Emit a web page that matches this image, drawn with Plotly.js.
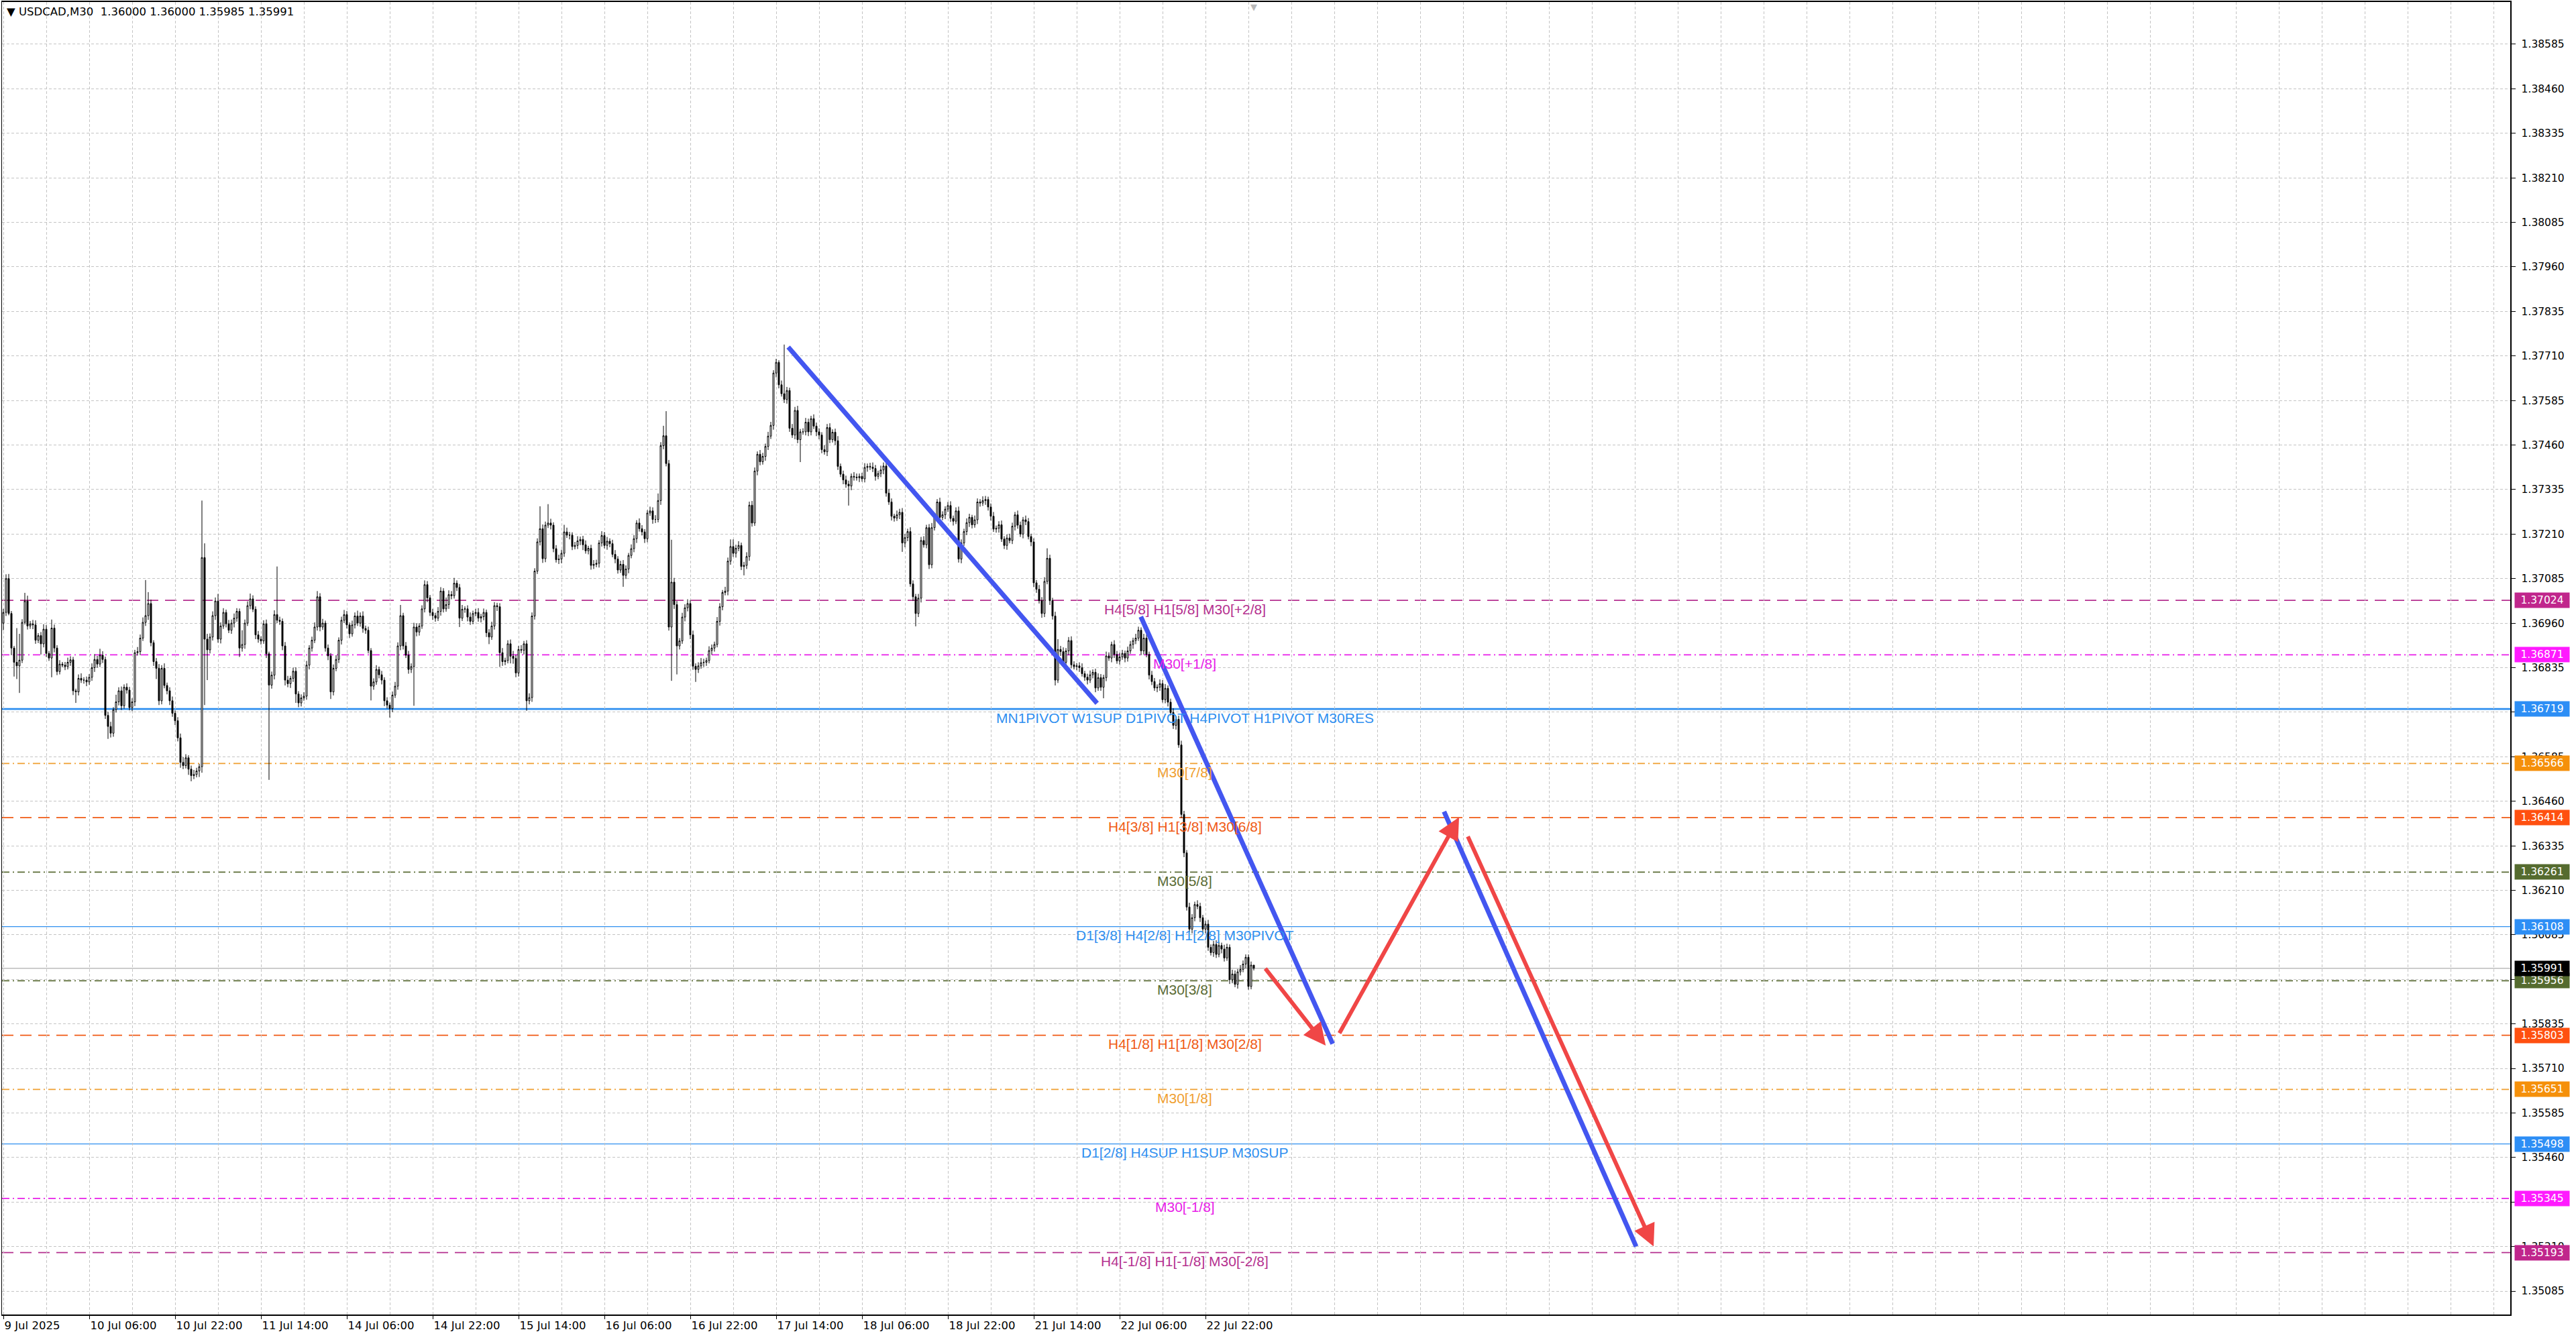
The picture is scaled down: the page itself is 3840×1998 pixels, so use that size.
<!DOCTYPE html>
<html>
<head>
<meta charset="utf-8">
<script src="https://cdn.plot.ly/plotly-3.0.1.min.js"></script>
<style>
  html, body { margin: 0; padding: 0; background: #fff; }
  #chart { width: 3840px; height: 1998px; }
</style>
</head>
<body>
<div id="chart"></div>
<script>
// USDCAD M30 -- prices kept in points (1e-5) relative to 1.36000
const BASE = 1.36;
const PT = 0.00001;
const firstOpenPts = 960;

const closePts = [
  990,1085,987,890,850,840,856,962,1022,952,958,955,912,925,902,943,
  875,862,946,890,824,845,842,838,850,857,770,767,805,800,800,795,
  808,835,858,845,870,858,701,670,651,717,739,770,728,780,772,723,
  739,877,880,918,962,981,1015,905,852,833,742,833,785,770,742,707,
  686,638,569,560,582,550,532,535,545,557,1144,915,885,921,981,1022,
  915,952,990,958,940,960,974,993,890,900,960,1009,1028,999,927,915,
  910,958,874,786,814,984,968,965,896,800,790,805,825,761,736,750,
  755,842,890,912,949,1034,949,960,890,868,767,833,858,912,968,984,
  955,930,955,980,960,980,945,940,883,783,795,830,815,800,742,730,
  720,758,783,896,981,896,870,830,838,949,935,952,1000,1068,1031,990,
  981,974,993,1050,1000,1012,1040,1037,1072,1060,974,999,1000,977,965,987,
  990,974,978,990,933,921,952,1009,1006,877,852,855,902,867,861,820,
  886,884,902,742,751,980,1106,1188,1225,1141,1235,1241,1235,1169,1138,1140,
  1156,1216,1207,1207,1175,1178,1191,1195,1180,1163,1170,1122,1125,1128,1185,1206,
  1178,1190,1183,1153,1140,1109,1125,1094,1112,1150,1169,1197,1241,1225,1216,1197,
  1269,1275,1251,1251,1304,1458,1486,1408,949,1075,1012,896,910,977,1003,1015,
  927,839,830,840,849,850,855,883,890,900,965,1006,1046,1050,1134,1175,
  1156,1170,1178,1119,1122,1147,1291,1241,1387,1434,1413,1428,1456,1485,1515,1662,
  1692,1629,1604,1588,1613,1507,1488,1557,1475,1497,1497,1524,1497,1534,1513,1497,
  1488,1447,1441,1509,1475,1496,1472,1400,1378,1362,1350,1345,1372,1370,1368,1372,
  1365,1397,1400,1398,1394,1372,1380,1390,1401,1325,1300,1260,1255,1264,1271,1185,
  1200,1217,1070,1034,987,1030,1192,1180,1228,1124,1228,1257,1300,1257,1264,1280,
  1290,1254,1246,1275,1140,1185,1217,1242,1257,1236,1250,1300,1297,1304,1307,1286,
  1260,1224,1226,1236,1196,1178,1199,1192,1232,1264,1235,1210,1250,1245,1203,1188,
  1073,1055,1023,987,1077,1142,1023,980,800,886,880,850,882,911,843,838,
  840,835,818,808,800,815,822,778,807,780,807,868,862,900,872,854,
  865,875,862,882,900,911,918,940,882,918,872,814,796,778,780,790,
  745,777,738,709,673,690,618,423,315,163,101,133,170,165,133,101,
  115,50,35,58,30,55,45,20,50,-41,-25,-54,-19,-12,3,22,
  -60,0,-9
];

// wick lengths above / below the body, points
const upperWick = [
  10,12,13,7,6,96,74,9,23,15,8,11,13,7,10,14,
  12,7,24,10,8,11,6,9,13,10,8,6,11,14,8,10,
  9,12,15,10,18,11,8,10,13,7,20,10,12,8,11,9,
  10,8,13,10,14,100,32,11,7,10,12,9,14,8,10,12,
  8,10,12,15,10,7,10,13,9,8,160,40,15,10,12,10,
  20,10,12,8,11,10,13,9,8,40,10,12,15,10,8,11,
  8,10,12,6,10,12,135,10,8,11,12,7,10,11,8,10,
  11,12,8,10,13,16,10,12,7,10,8,11,12,8,10,13,
  10,7,12,10,15,10,13,8,10,7,10,12,8,11,8,10,
  7,10,12,10,30,8,11,12,9,12,10,8,10,12,10,8,
  10,8,12,11,8,20,12,10,15,8,10,12,7,10,13,8,
  10,12,8,11,8,10,12,10,8,10,13,8,10,12,15,10,
  10,12,8,10,12,10,8,10,63,12,10,53,12,8,10,12,
  10,20,12,9,8,10,13,8,10,12,7,10,12,10,8,12,
  10,12,8,11,12,8,10,12,10,7,12,10,8,13,10,8,
  8,12,10,12,20,10,28,69,10,119,12,10,8,12,10,12,
  10,12,8,10,13,10,8,12,10,8,12,10,7,12,10,20,
  20,10,12,8,10,12,10,12,10,8,12,10,8,12,10,8,
  10,6,12,138,10,8,12,10,13,8,10,12,10,8,12,10,
  10,8,12,10,12,8,10,13,8,10,12,10,8,12,10,8,
  10,12,8,10,13,10,8,12,10,8,12,10,7,12,10,12,
  10,8,12,10,8,12,10,12,8,10,13,10,8,12,10,8,
  10,12,8,10,12,10,8,12,10,7,12,10,8,12,10,8,
  10,12,8,10,12,8,10,12,10,8,12,10,8,12,10,8,
  10,8,12,10,12,28,10,8,12,29,10,12,8,10,12,10,
  8,10,12,8,10,12,8,10,12,10,8,12,10,8,12,10,
  12,10,8,12,10,8,12,10,8,12,10,8,12,10,8,12,
  10,12,8,10,12,8,10,12,10,8,12,10,8,12,10,8,
  10,12,8,10,12,10,8,12,10,8,12,10,8,12,10,8,
  8,10,0
];
const lowerWick = [
  20,10,5,20,40,37,76,8,6,10,8,12,10,8,30,10,
  10,8,54,12,10,8,6,10,8,10,12,31,10,8,10,12,
  8,10,12,10,8,10,10,35,12,10,8,10,12,8,10,8,
  10,12,8,10,8,10,12,10,12,30,12,10,8,10,12,10,
  12,10,15,10,8,16,16,10,8,17,17,185,85,10,10,12,
  10,12,8,10,8,10,12,10,25,10,12,8,10,8,12,10,
  10,8,12,266,10,12,8,10,12,15,10,12,10,25,12,10,
  8,10,12,10,8,10,12,8,10,12,20,10,8,10,12,8,
  10,12,8,10,8,10,12,10,8,40,10,8,10,12,15,10,
  25,10,8,10,12,10,8,12,10,110,12,10,8,10,12,10,
  12,10,8,12,10,8,12,10,8,10,25,8,10,12,10,8,
  8,10,12,10,12,20,8,10,12,40,12,10,8,20,15,12,
  10,8,12,28,10,12,10,8,10,12,10,8,12,10,8,12,
  12,10,8,12,10,8,10,12,15,8,10,12,10,8,12,10,
  8,12,10,8,12,10,8,32,10,12,8,10,12,8,10,12,
  10,8,12,10,8,12,10,8,10,151,12,80,10,8,12,10,
  12,10,35,10,8,12,10,8,12,10,8,12,10,8,12,10,
  10,12,8,10,25,10,12,10,8,12,10,8,12,10,8,12,
  12,10,8,10,12,10,8,12,10,63,8,10,12,10,8,12,
  12,10,8,12,10,8,12,10,8,12,10,55,12,10,8,12,
  8,10,12,8,10,12,8,10,12,10,8,12,10,8,12,25,
  12,10,8,12,36,10,12,8,10,12,10,8,12,10,8,12,
  8,10,12,8,10,12,8,10,12,10,8,12,10,8,12,10,
  12,8,10,12,8,10,12,8,10,12,10,8,12,10,8,12,
  12,10,8,12,10,8,12,10,15,8,12,10,8,12,10,8,
  10,12,8,10,12,8,10,12,8,10,31,10,8,12,10,8,
  10,8,12,10,8,12,10,8,12,10,8,12,10,8,12,10,
  8,10,12,8,10,12,8,10,12,10,8,12,10,8,12,10,
  12,10,8,12,10,8,12,10,8,12,10,8,12,10,8,12,
  9,8,6
];

const xTickBars = [0,32,64,96,128,160,192,224,256,288,320,352,384,416,448];
const xTickText = ['9 Jul 2025','10 Jul 06:00','10 Jul 22:00','11 Jul 14:00','14 Jul 06:00',
  '14 Jul 22:00','15 Jul 14:00','16 Jul 06:00','16 Jul 22:00','17 Jul 14:00',
  '18 Jul 06:00','18 Jul 22:00','21 Jul 14:00','22 Jul 06:00','22 Jul 22:00'];

const yTicks = [1.35085,1.35210,1.35335,1.35460,1.35585,1.35710,1.35835,1.35960,1.36085,
  1.36210,1.36335,1.36460,1.36585,1.36710,1.36835,1.36960,1.37085,1.37210,1.37335,
  1.37460,1.37585,1.37710,1.37835,1.37960,1.38085,1.38210,1.38335,1.38460,1.38585];

// Murrey / pivot levels and their captions
const levelPrices = [1.37024,1.36871,1.36719,1.36566,1.36414,1.36261,1.36108,
  1.35956,1.35803,1.35651,1.35498,1.35345,1.35193];
const levelNames = ['H4[5/8] H1[5/8] M30[+2/8]','M30[+1/8]',
  'MN1PIVOT W1SUP D1PIVOT H4PIVOT H1PIVOT M30RES','M30[7/8]',
  'H4[3/8] H1[3/8] M30[6/8]','M30[5/8]','D1[3/8] H4[2/8] H1[2/8] M30PIVOT',
  'M30[3/8]','H4[1/8] H1[1/8] M30[2/8]','M30[1/8]','D1[2/8] H4SUP H1SUP M30SUP',
  'M30[-1/8]','H4[-1/8] H1[-1/8] M30[-2/8]'];

// drawn objects: trend lines and forecast arrows (bar index, price)
const blueLineX = [[292.5,407.6],[423.9,495.4],[536.9,608.5]];
const blueLineY = [[1.37735,1.36735],[1.36978,1.35779],[1.36431,1.35210]];
const redFromX = [470.0,497.7,545.6];
const redFromY = [1.35993,1.35806,1.36364];
const redToX = [492.8,542.5,615.0];
const redToY = [1.35774,1.36415,1.35210];

// ---- styles ----
const levelColors = ['#b5308f','#e81ee8','#2f8ff0','#f0a030','#f05a14','#5a6b34','#2f8ff0',
  '#5a6b34','#f05a14','#f0a030','#2f8ff0','#e81ee8','#b5308f'];
const tagColors = ['#c0268c','#ff1aff','#2d8ef5','#f5900a','#ff5010','#556b2f','#2d8ef5',
  '#556b2f','#ff5010','#f5900a','#2d8ef5','#ff1aff','#c0268c'];
const LONG = '17px,10px', DDOT = '11px,5px,2px,5px';
const levelDash = [LONG,DDOT,'solid',DDOT,LONG,DDOT,'solid',DDOT,LONG,DDOT,'solid',DDOT,LONG];
const levelWidth = [1.6,1.6,2.6,1.6,1.6,1.6,1.4,1.6,1.6,1.6,1.4,1.6,1.6];
const labelBar = 440.25;
const BLUE = '#4356f0', RED = '#f04646';

// ---- build OHLC ----
const bars = closePts.map((v, i) => i);
const close = closePts.map(v => BASE + v * PT);
const open = close.map((c, i) => i === 0 ? BASE + firstOpenPts * PT : close[i - 1]);
const high = close.map((c, i) => Math.max(open[i], c) + upperWick[i] * PT);
const low = close.map((c, i) => Math.min(open[i], c) - lowerWick[i] * PT);
const lastPrice = close[close.length - 1];

let traces = [];
traces.push({
  type: 'candlestick', x: bars, open: open, high: high, low: low, close: close,
  increasing: {line: {color: '#000', width: 1}, fillcolor: '#ffffff'},
  decreasing: {line: {color: '#000', width: 1}, fillcolor: '#000000'},
  whiskerwidth: 0, hoverinfo: 'skip', showlegend: false
});
for (let i = 0; i < blueLineX.length; i++) {
  traces.push({
    type: 'scatter', mode: 'lines', x: blueLineX[i], y: blueLineY[i],
    line: {color: BLUE, width: 7}, hoverinfo: 'skip', showlegend: false
  });
}

let shapes = [];
levelPrices.forEach(function(p, i) {
  shapes.push({type: 'line', xref: 'paper', x0: 0, x1: 1, yref: 'y', y0: p, y1: p,
    layer: 'below', line: {color: levelColors[i], width: levelWidth[i], dash: levelDash[i]}});
});
shapes.push({type: 'line', xref: 'paper', x0: 0, x1: 1, yref: 'y', y0: lastPrice, y1: lastPrice,
  layer: 'below', line: {color: '#bcbcbc', width: 1.5}});

let annotations = [];
annotations.push({
  xref: 'paper', yref: 'paper', x: 0, y: 1, xanchor: 'left', yanchor: 'top',
  xshift: 5, yshift: -3, showarrow: false,
  text: '\u25BC\u00A0USDCAD,M30\u00A0\u00A01.36000\u00A01.36000\u00A01.35985\u00A01.35991',
  font: {family: 'DejaVu Sans', size: 16.5, color: '#000'}
});
annotations.push({
  xref: 'x', yref: 'paper', x: bars[bars.length - 1], y: 1, yanchor: 'top', yshift: 2,
  showarrow: false, text: '\u25BC', font: {family: 'DejaVu Sans', size: 13, color: '#b8b8b8'}
});
levelPrices.forEach(function(p, i) {
  annotations.push({
    xref: 'x', yref: 'y', x: labelBar, y: p, xanchor: 'center', yanchor: 'middle',
    yshift: -13, showarrow: false, text: levelNames[i],
    font: {family: 'Liberation Sans, Arial', size: 21, color: levelColors[i]}
  });
});
for (let i = 0; i < redFromX.length; i++) {
  annotations.push({
    xref: 'x', yref: 'y', x: redToX[i], y: redToY[i],
    axref: 'x', ayref: 'y', ax: redFromX[i], ay: redFromY[i],
    text: '', showarrow: true, arrowhead: 2, arrowsize: 1.1, arrowwidth: 6,
    arrowcolor: RED, standoff: 0, startstandoff: 0
  });
}
function tag(p, color) {
  return {
    xref: 'paper', yref: 'y', x: 1, y: p, xanchor: 'left', yanchor: 'middle',
    xshift: 6, showarrow: false, text: p.toFixed(5), bgcolor: color,
    width: 77, height: 18, borderpad: 2, align: 'center',
    font: {family: 'DejaVu Sans', size: 15.5, color: '#ffffff'}
  };
}
levelPrices.forEach(function(p, i) { annotations.push(tag(p, tagColors[i])); });
annotations.push(tag(lastPrice, '#000000'));

const layout = {
  width: 3840, height: 1998,
  margin: {l: 3, r: 98, t: 3, b: 38},
  paper_bgcolor: '#ffffff', plot_bgcolor: '#ffffff',
  showlegend: false,
  xaxis: {
    range: [-0.5, 934.25], rangeslider: {visible: false},
    tickmode: 'array', tickvals: xTickBars, ticktext: xTickText,
    ticklabelposition: 'outside right',
    ticks: 'outside', ticklen: 5, tickcolor: '#000',
    tickfont: {family: 'DejaVu Sans', size: 16.5, color: '#000'},
    showgrid: true, gridcolor: '#c4c4c4', gridwidth: 1, griddash: '4px,3px',
    minor: {tickmode: 'linear', tick0: 0, dtick: 16, showgrid: true,
      gridcolor: '#c4c4c4', gridwidth: 1, griddash: '4px,3px', ticks: ''},
    showline: true, linecolor: '#000', linewidth: 2, mirror: true,
    zeroline: false, fixedrange: true
  },
  yaxis: {
    side: 'right', range: [1.350191, 1.387036],
    tickmode: 'array', tickvals: yTicks, ticktext: yTicks.map(v => v.toFixed(5)),
    ticks: 'outside', ticklen: 6, tickcolor: '#000', ticklabelstandoff: 6,
    tickfont: {family: 'DejaVu Sans', size: 15.5, color: '#000'},
    showgrid: true, gridcolor: '#c4c4c4', gridwidth: 1, griddash: '4px,3px',
    showline: true, linecolor: '#000', linewidth: 1.5, mirror: true,
    zeroline: false, fixedrange: true
  },
  shapes: shapes,
  annotations: annotations
};

Plotly.newPlot('chart', traces, layout, {staticPlot: true, displayModeBar: false});
</script>
</body>
</html>
